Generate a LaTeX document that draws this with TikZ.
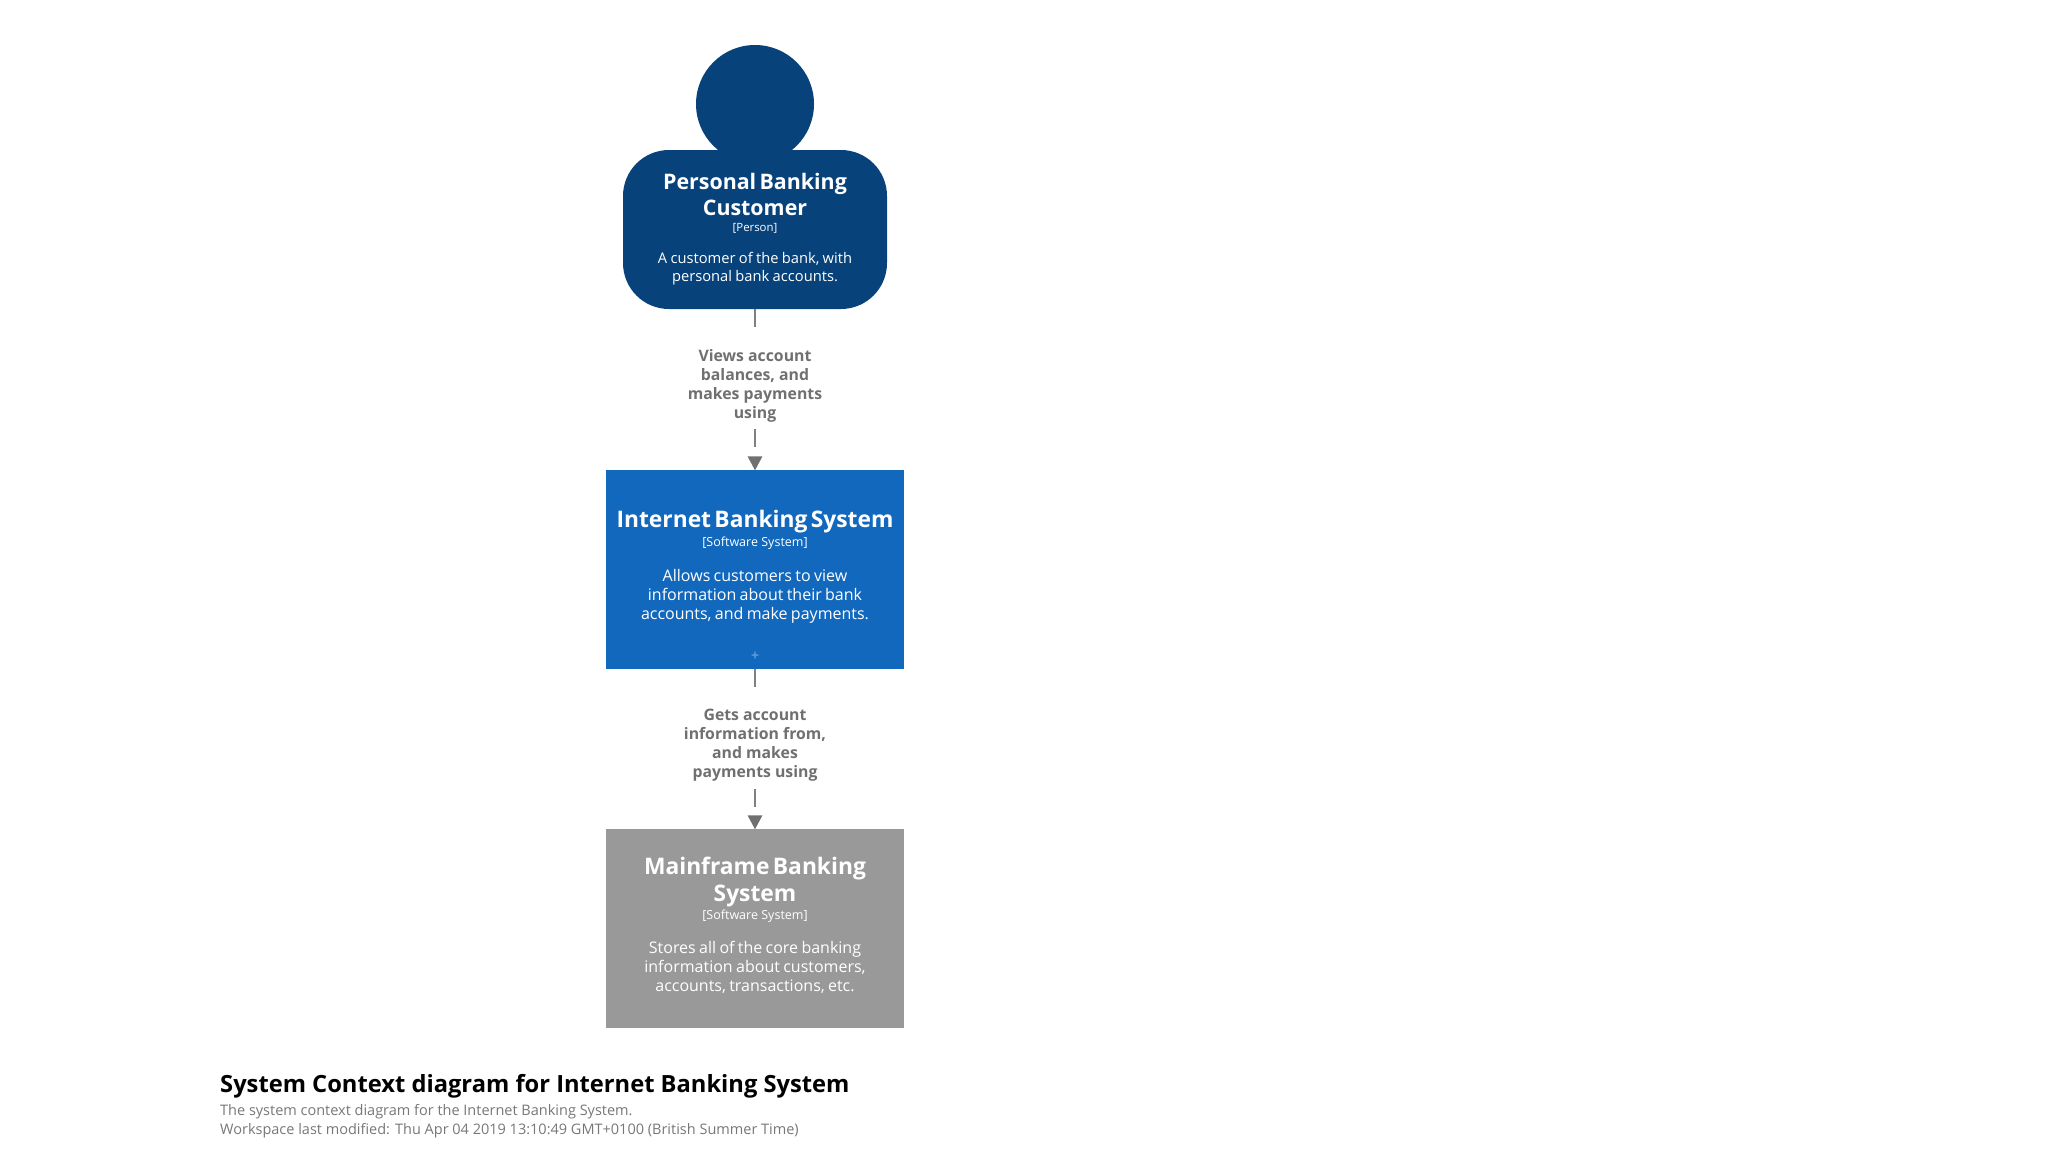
\documentclass[tikz,border=0pt]{standalone}
\usepackage{fontspec}
\setmainfont{Open Sans}
\usetikzlibrary{arrows.meta}
\definecolor{personblue}{HTML}{08427B}
\definecolor{sysblue}{HTML}{1168BD}
\definecolor{sysgray}{HTML}{999999}
\definecolor{linegray}{HTML}{808080}
\definecolor{tipgray}{HTML}{707070}
\definecolor{labelgray}{HTML}{707070}
\definecolor{subgray}{HTML}{777777}
\definecolor{plusblue}{HTML}{5A9BE0}
\newcommand{\ttl}{\bfseries\fontsize{21.4}{25.7}\selectfont}
\newcommand{\ttlb}{\bfseries\fontsize{22.8}{27}\selectfont}
\newcommand{\metatype}{\fontsize{12.5}{14}\selectfont}
\newcommand{\metap}{\fontsize{11.4}{14}\selectfont}
\newcommand{\desc}{\fontsize{16}{19}\selectfont}
\newcommand{\descp}{\fontsize{14.7}{17.7}\selectfont}
\newcommand{\trailsp}[1]{\vskip#1\hrule height 0pt width 0pt}
\tikzset{
  x=1pt,y=-1pt,
  sysbox/.style={rectangle,draw=#1,fill=#1,line width=0.5pt,text=white,minimum width=297pt,minimum height=198pt,inner sep=0pt,text width=297pt,align=center},
  headshape/.style={circle,fill=personblue,minimum size=118pt,inner sep=0pt},
  bodyshape/.style={rectangle,rounded corners=46pt,fill=personblue,text=white,minimum width=264pt,minimum height=159pt,inner sep=0pt,text width=264pt,align=center},
  rel/.style={linegray,line width=2pt,dash pattern=on 18pt off 12pt,-{Triangle[length=14pt,width=15pt,fill=tipgray,color=tipgray,line width=0pt]}},
  rellabel/.style={fill=white,text=labelgray,font=\bfseries\fontsize{15.8}{19}\selectfont,inner xsep=4pt,inner ysep=0pt,align=center},
  captitle/.style={anchor=base west,inner sep=0pt,font=\bfseries\fontsize{23.7}{30}\selectfont,text=black},
  capsub/.style={anchor=base west,inner sep=0pt,font=\fontsize{14.5}{18}\selectfont,text=subgray}
}
\begin{document}
\begin{tikzpicture}
\useasboundingbox (0,0) rectangle (2048,1152);
\node[headshape] (head) at (755,104) {};
\node[bodyshape] (person) at (755,229.5) {{\ttl Personal Banking\par Customer\par}\vskip1.7pt{\metap [Person]\par}\vskip14.5pt{\descp A customer of the bank, with\par personal bank accounts.\par}\trailsp{1pt}};
\node[sysbox=sysblue] (ibs) at (755,569.5) {{\ttlb Internet Banking System\par}\vskip2.9pt{\metatype [Software System]\par}\vskip15.6pt{\desc Allows customers to view\par information about their bank\par accounts, and make payments.\par}\trailsp{5.2pt}};
\node[text=plusblue,font=\bfseries\fontsize{14}{14}\selectfont,inner sep=0pt] (plus) at (755,656) {+};
\node[sysbox=sysgray] (mf) at (755,928.5) {{\ttlb Mainframe Banking\par System\par}\vskip2.5pt{\metatype [Software System]\par}\vskip15.2pt{\desc Stores all of the core banking\par information about customers,\par accounts, transactions, etc.\par}\trailsp{6.6pt}};
\draw[rel] (person.south) -- (ibs.north);
\draw[rel] (ibs.south) -- (mf.north);
\node[rellabel] (l1) at (755,379) {\rule{0pt}{32pt}Views account\\balances, and\\makes payments\\using\rule[-10pt]{0pt}{10pt}};
\node[rellabel] (l2) at (755,739) {\rule{0pt}{31pt}Gets account\\information from,\\and makes\\payments using\rule[-12pt]{0pt}{12pt}};
\node[captitle] (cap) at (220,1092) {System Context diagram for Internet Banking System};
\node[capsub] (sub1) at (220,1115) {The system context diagram for the Internet Banking System.};
\node[capsub] (sub2) at (220,1134) {Workspace last modified: Thu Apr 04 2019 13:10:49 GMT+0100 (British Summer Time)};
\end{tikzpicture}
\end{document}
